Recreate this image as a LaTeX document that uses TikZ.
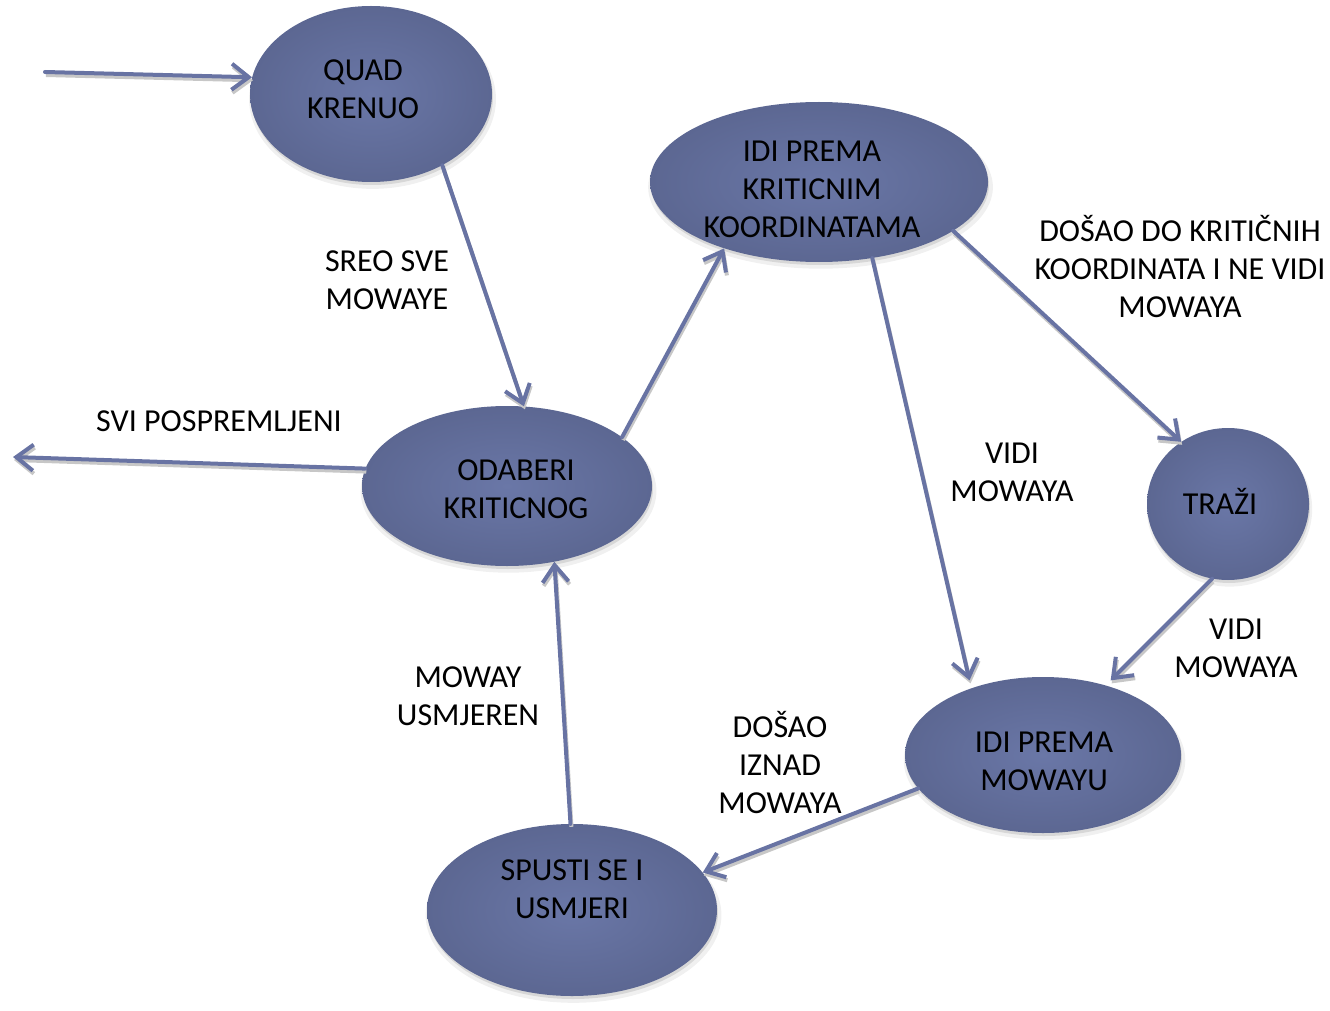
\documentclass[tikz,border=0pt]{standalone}
\usepackage{fontspec}
\setmainfont{Carlito}
\usetikzlibrary{shapes.geometric,arrows.meta,shadows}
\definecolor{lc}{RGB}{104,115,163}
\definecolor{fin}{RGB}{106,119,167}
\definecolor{fout}{RGB}{92,103,146}
\tikzset{
  st/.style={ellipse, inner sep=0pt, shade, inner color=fin, outer color=fout,
    drop shadow={shadow xshift=1.5pt, shadow yshift=-5pt, opacity=.12, shadow scale=1.02},
    drop shadow={shadow xshift=1pt, shadow yshift=-3pt, opacity=.22}},
  txt/.style={align=center, inner sep=0pt, font=\fontsize{32}{38}\selectfont},
  conn/.style={draw=lc, line width=4pt, line cap=round,
    -{Straight Barb[length=17pt,width=26pt,line width=4pt]},
    preaction={draw=black!22, line width=4pt, transform canvas={xshift=1pt,yshift=-3pt}}}
}
\begin{document}
\begin{tikzpicture}[x=1pt,y=-1pt]
\useasboundingbox (0,0) rectangle (1330,1011);
% states
\node[st, minimum width=242pt, minimum height=176pt] (quad) at (371,94) {};
\node[st, minimum width=338pt, minimum height=160pt] (krit) at (819,182) {};
\node[st, minimum width=290pt, minimum height=160pt] (odab) at (507,486) {};
\node[st, minimum width=162pt, minimum height=152pt] (trazi) at (1228,504) {};
\node[st, minimum width=276pt, minimum height=156pt] (mow) at (1043,755) {};
\node[st, minimum width=290pt, minimum height=172pt] (spus) at (572,910) {};
% state texts
\node[txt] (quadt) at (363,89) {QUAD\\KRENUO};
\node[txt] (kritt) at (812,189) {IDI PREMA\\KRITICNIM\\KOORDINATAMA};
\node[txt] (odabt) at (516,489) {ODABERI\\KRITICNOG};
\node[txt] (trazit) at (1220,501) {TRAŽI};
\node[txt] (mowt) at (1044,761) {IDI PREMA\\MOWAYU};
\node[txt] (spust) at (572,889) {SPUSTI SE I\\USMJERI};
% free ends
\coordinate (start) at (45,72);
\coordinate (exit) at (13,457);
% connectors
\draw[conn] (start) -- (quad.172);
\draw[conn] (quad.-45) -- (odab.78);
\draw[conn] (odab.173) -- (exit);
\draw[conn] (odab.23) -- (krit.215);
\draw[conn] (krit.-20) -- (trazi.127);
\draw[conn, shorten >=8pt] (krit.-55) -- (mow.137);
\draw[conn, shorten >=7pt] (trazi.258) -- (mow.48);
\draw[conn] (mow.195) -- (spus.16);
\draw[conn] (spus.91) -- (odab.-58);
% labels
\node[txt] (l1) at (387,280) {SREO SVE\\MOWAYE};
\node[txt] (l2) at (219,421) {SVI POSPREMLJENI};
\node[txt] (l3) at (1180,267) {DOŠAO DO KRITIČNIH\\KOORDINATA I NE VIDI\\MOWAYA};
\node[txt] (l4) at (1012,472) {VIDI\\MOWAYA};
\node[txt] (l5) at (1236,648) {VIDI\\MOWAYA};
\node[txt] (l6) at (780,763) {DOŠAO\\IZNAD\\MOWAYA};
\node[txt] (l7) at (468,696) {MOWAY\\USMJEREN};
\end{tikzpicture}
\end{document}
